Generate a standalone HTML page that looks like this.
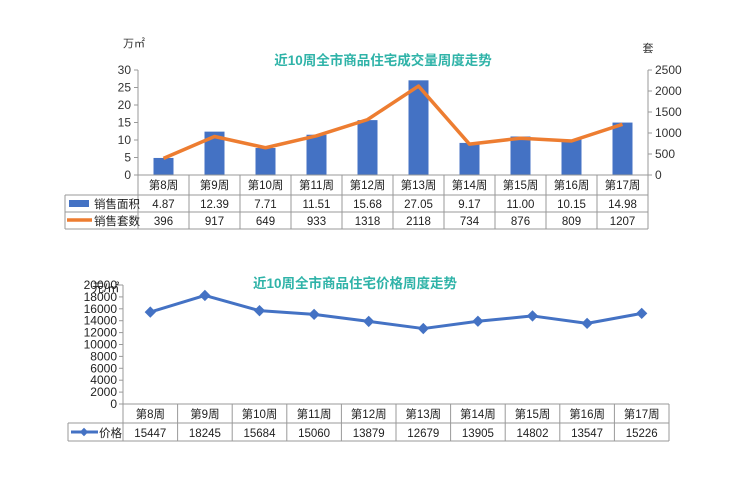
<!DOCTYPE html>
<html><head><meta charset="utf-8"><style>
html,body{margin:0;padding:0;background:#fff;}
svg{display:block;font-family:"Liberation Sans","Noto Sans CJK SC",sans-serif;}
</style></head><body>
<svg id="s" width="740" height="488" xmlns="http://www.w3.org/2000/svg"></svg>
<script>
const s=document.getElementById('s');let h='';
const weeks=[8,9,10,11,12,13,14,15,16,17].map(n=>'第'+n+'周');
const area=[4.87,12.39,7.71,11.51,15.68,27.05,9.17,11.00,10.15,14.98];
const area_t=['4.87','12.39','7.71','11.51','15.68','27.05','9.17','11.00','10.15','14.98'];
const sets=[396,917,649,933,1318,2118,734,876,809,1207];
const price=[15447,18245,15684,15060,13879,12679,13905,14802,13547,15226];
function t(x,y,str,o){o=o||{};h+=`<text x="${x}" y="${y}" font-size="${o.fs||11.5}" fill="${o.c||'#222'}" text-anchor="${o.a||'middle'}" ${o.b?'font-weight="bold"':''}>${str}</text>`;}
function l(x1,y1,x2,y2,c,w){h+=`<line x1="${x1}" y1="${y1}" x2="${x2}" y2="${y2}" stroke="${c||'#999'}" stroke-width="${w||1}"/>`;}
// Chart 1
let L=138,R=648,B=175,T=70,cw=(R-L)/10;
t(383,65,'近10周全市商品住宅成交量周度走势',{fs:13.5,c:'#2fb3a8',b:1});
t(134,47,'万㎡',{fs:11,c:'#333'});t(648,52,'套',{fs:11,c:'#333'});
for(let i=0;i<=6;i++){let y=B-i*(B-T)/6;t(131,y+4,i*5,{fs:12,a:'end',c:'#333'});l(134,y,138,y,'#999');}
for(let i=0;i<=5;i++){let y=B-i*(B-T)/5;t(655,y+4,i*500,{fs:12,a:'start',c:'#333'});l(648,y,652,y,'#999');}
l(L,T,L,B);l(R,T,R,B);
area.forEach((v,i)=>{let x=L+cw*i+cw/2,hh=v*(B-T)/30;h+=`<rect x="${x-10}" y="${B-hh}" width="20" height="${hh}" fill="#4472c4"/>`;});
let pts=sets.map((v,i)=>`${L+cw*i+cw/2},${B-v*(B-T)/2500}`).join(' ');
h+=`<polyline points="${pts}" fill="none" stroke="#ed7d31" stroke-width="3.5" stroke-linejoin="round"/>`;
l(L,B,R,B,'#999');l(65,195,R,195,'#999');l(65,212,R,212,'#999');l(65,229,R,229,'#999');l(65,195,65,229,'#999');
for(let i=0;i<=10;i++)l(L+cw*i,B,L+cw*i,229,'#999');
weeks.forEach((w,i)=>{let x=L+cw*i+cw/2;t(x,189,w);t(x,208,area_t[i]);t(x,225,sets[i]);});
h+=`<rect x="69" y="200" width="20" height="7" fill="#4472c4"/>`;l(67,220,92,220,'#ed7d31',3.5);
t(94,208,'销售面积',{a:'start'});t(94,225,'销售套数',{a:'start'});
// Chart 2
L=123;R=669;B=404;T=285;cw=(R-L)/10;
t(355,288,'近10周全市商品住宅价格周度走势',{fs:13.5,c:'#2fb3a8',b:1});
for(let i=0;i<=10;i++){let y=B-i*(B-T)/10;t(117,y+4,i*2000,{fs:12,a:'end',c:'#222'});l(119,y,123,y,'#999');}
t(92,292,'元/㎡',{fs:12,a:'start',c:'#222'});
l(L,T,L,B);
pts=price.map((v,i)=>[L+cw*i+cw/2,B-v*(B-T)/20000]);
h+=`<polyline points="${pts.map(p=>p.join(',')).join(' ')}" fill="none" stroke="#4472c4" stroke-width="3" stroke-linejoin="round"/>`;
pts.forEach(p=>h+=`<rect x="${p[0]-4}" y="${p[1]-4}" width="8" height="8" fill="#4472c4" transform="rotate(45 ${p[0]} ${p[1]})"/>`);
l(L,B,R,B,'#999');l(68,423,R,423,'#999');l(68,441,R,441,'#999');l(68,423,68,441,'#999');
for(let i=0;i<=10;i++)l(L+cw*i,B,L+cw*i,441,'#999');
weeks.forEach((w,i)=>{let x=L+cw*i+cw/2;t(x,418,w);t(x,437,price[i]);});
l(71,432,98,432,'#4472c4',3);h+=`<rect x="81" y="429" width="6" height="6" fill="#4472c4" transform="rotate(45 84 432)"/>`;
t(99,437,'价格',{a:'start'});
s.innerHTML=h;
</script>
</body></html>
